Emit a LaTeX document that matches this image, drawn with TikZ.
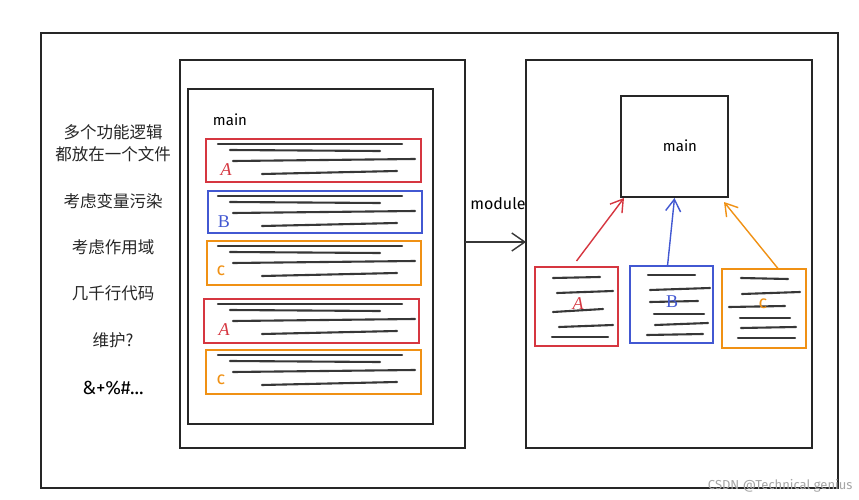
\documentclass[tikz,border=0pt]{standalone}
\usepackage{fontspec}
\setmainfont{Fira Sans}
\newfontfamily\cjk{Noto Sans CJK SC}
\newfontfamily\ser{Liberation Serif}
\usetikzlibrary{arrows.meta}
\definecolor{cred}{RGB}{214,54,64}
\definecolor{cblue}{RGB}{66,88,210}
\definecolor{corange}{RGB}{240,145,20}
\definecolor{cline}{RGB}{55,55,55}
\newcommand\bx[6]{\node[#6, minimum width={#4-#2}, minimum height={#5-#3}] (#1) at ({(#2+#4)/2},{(#3+#5)/2}) {};}
\tikzset{
  frame/.style={draw=black!85, line width=1.4pt, inner sep=0pt, outer sep=0pt, rectangle},
  rbox/.style={draw=cred, line width=1.3pt, inner sep=0pt, outer sep=0pt, rectangle},
  bbox/.style={draw=cblue, line width=1.3pt, inner sep=0pt, outer sep=0pt, rectangle},
  obox/.style={draw=corange, line width=1.3pt, inner sep=0pt, outer sep=0pt, rectangle},
  txt/.style={draw=cline, line width=2.1pt, line cap=round},
  cn/.style={font=\cjk\fontsize{16.5}{18}\selectfont, text=black!85},
  lab/.style={font=\ser\fontsize{18}{18}\selectfont},
  arr/.style={line width=1.4pt, -{Straight Barb[length=12pt,width=15pt,line width=1.4pt]}},
}
\begin{document}
\begin{tikzpicture}[x=1pt,y=-1pt]
\useasboundingbox (0,0) rectangle (859,500);
\fill[white] (0,0) rectangle (859,500);
% outer frame
\bx{outer}{41}{33}{838}{488}{frame}
% left panel
\bx{leftpanel}{180}{60}{465}{448}{frame}
\bx{leftinner}{188}{89}{433}{424}{frame}
\node[font=\fontsize{15}{16}\selectfont] (mainl) at (230,120) {main};
% boxes in left panel
\bx{a1}{206}{139}{421}{182}{rbox}
\bx{b1}{208}{191}{422}{233}{bbox}
\bx{c1}{207}{241}{421}{285}{obox}
\bx{a2}{204}{299}{419}{343}{rbox}
\bx{c2}{206}{350}{421}{394}{obox}
\foreach \t in {139,191,241,299,350}{
  \draw[txt] (218,\t+5) -- (402,\t+5);
  \draw[txt] (230,\t+11) -- (380,\t+12);
  \draw[txt] (233,\t+22) -- (415,\t+20);
  \draw[txt] (262,\t+35) -- (397,\t+32);
}
\node[lab, text=cred, font=\ser\itshape\fontsize{18}{18}\selectfont] (la1) at (226,170) {A};
\node[lab, text=cblue] (lb1) at (224,222) {B};
\node[lab, text=corange, font=\fontsize{18}{18}\selectfont] (lc1) at (221,271) {c};
\node[lab, text=cred, font=\ser\itshape\fontsize{18}{18}\selectfont] (la2) at (224,330) {A};
\node[lab, text=corange, font=\fontsize{18}{18}\selectfont] (lc2) at (221,380) {c};
% left texts
\node[cn] (t1) at (113,132) {多个功能逻辑};
\node[cn] (t2) at (113,154) {都放在一个文件};
\node[cn] (t3) at (113,201) {考虑变量污染};
\node[cn] (t4) at (113,247) {考虑作用域};
\node[cn] (t5) at (113,293) {几千行代码};
\node[cn] (t6) at (113,340) {维护?};
\node[font=\fontsize{19}{20}\selectfont] (t7) at (113,388) {\&+\%\#...};
% right panel
\bx{rightpanel}{526}{60}{812}{448}{frame}
\bx{mainbox}{621}{96}{728}{197}{frame}
\node[font=\fontsize{15}{16}\selectfont] (mainr) at (680,146) {main};
\bx{boxA}{535}{267}{618}{346}{rbox}
\bx{boxB}{630}{266}{713}{343}{bbox}
\bx{boxC}{722}{269}{806}{348}{obox}
% lines in small boxes
\draw[txt] (553,278) -- (600,277);
\draw[txt] (557,293) -- (613,291);
\draw[txt] (553,312) -- (603,309);
\draw[txt] (559,327) -- (613,325);
\draw[txt] (552,337) -- (608,337);
\draw[txt] (648,275) -- (695,275);
\draw[txt] (650,290) -- (710,288);
\draw[txt] (650,302) -- (698,301);
\draw[txt] (654,314) -- (704,314);
\draw[txt] (655,325) -- (708,323);
\draw[txt] (647,335) -- (703,334);
\draw[txt] (741,278) -- (788,279);
\draw[txt] (742,294) -- (800,292);
\draw[txt] (729,307) -- (785,306);
\draw[txt] (740,318) -- (790,318);
\draw[txt] (741,328) -- (796,327);
\draw[txt] (738,338) -- (795,338);
\node[lab, text=cred, font=\ser\itshape\fontsize{18}{18}\selectfont] (rA) at (578,304) {A};
\node[lab, text=cblue] (rB) at (672,302) {B};
\node[lab, text=corange, font=\fontsize{18}{18}\selectfont] (rC) at (763,304) {c};
% arrows
\path (boxA.north) ++(0,-6) coordinate (sa);
\draw[arr, cred] (sa) -- ([xshift=3pt,yshift=-1pt]mainbox.south west);
\draw[arr, cblue] ([xshift=-4pt]boxB.north) -- ([yshift=-1pt]mainbox.south);
\draw[arr, corange] (boxC.70) -- ([xshift=-4pt,yshift=-5pt]mainbox.south east);
% module arrow
\path (leftpanel.east) ++(0,-12) coordinate (m1);
\draw[line width=1.4pt, cline, -{Straight Barb[length=13pt,width=18pt,line width=1.4pt]}] (m1) -- (m1 -| rightpanel.west);
\node[font=\fontsize{16}{17}\selectfont, anchor=south] (modl) at (498,213) {module};
% watermark
\node[text=black!35, font=\fontsize{13}{14}\selectfont, anchor=east] (wm) at (856,486) {CSDN @Technical genius};
\end{tikzpicture}
\end{document}
